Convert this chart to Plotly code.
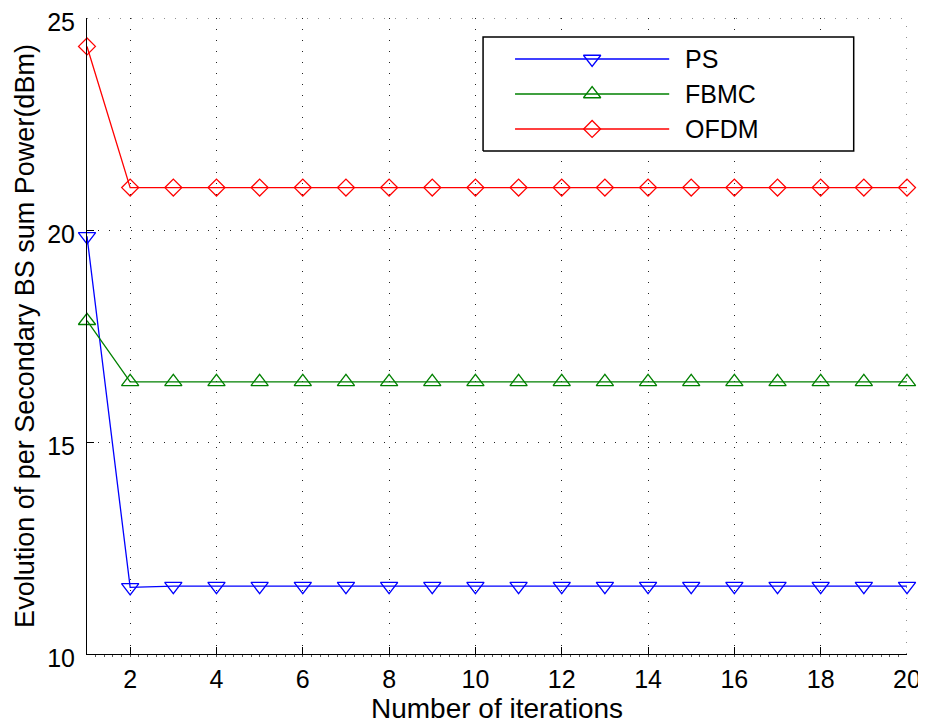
import plotly.graph_objects as go

iterations = list(range(1, 21))
ps = [19.85, 11.57] + [11.60] * 18
fbmc = [17.86, 16.42] + [16.42] * 18
ofdm = [24.33, 21.00] + [21.00] * 18

series_names = ["PS", "FBMC", "OFDM"]
series_values = [ps, fbmc, ofdm]
series_colors = ["#0000ff", "#008000", "#ff0000"]
series_symbols = ["triangle-down-open", "triangle-up-open", "diamond-open"]
series_sizes = [15, 15, 13]

x_ticks = list(range(2, 21, 2))
y_ticks = [10, 15, 20, 25]

FONT = "Liberation Sans, Arial, Helvetica, sans-serif"

fig = go.Figure()

# custom legend (MATLAB style box) drawn on an overlay axis in [0,1]
leg_x0, leg_x1 = 0.483, 0.935
leg_y0, leg_y1 = 0.791, 0.970
leg_rows = [0.9355, 0.8805, 0.8255]
line_a, line_b, mark_x, text_x = 0.522, 0.710, 0.616, 0.727

grid_dash = "1px,10px"

# dotted grid lines on the far edges (plotly drops grid lines at the range ends)
fig.add_shape(type="line", xref="paper", yref="y", x0=0, x1=1, y0=y_ticks[-1], y1=y_ticks[-1],
              line=dict(color="#222", width=1, dash=grid_dash), layer="below")
fig.add_shape(type="line", xref="x", yref="paper", x0=x_ticks[-1], x1=x_ticks[-1], y0=0, y1=1,
              line=dict(color="#222", width=1, dash=grid_dash), layer="below")

for name, vals, col, sym, sz in zip(series_names, series_values, series_colors, series_symbols, series_sizes):
    fig.add_trace(go.Scatter(
        x=iterations, y=vals, name=name, mode="lines+markers",
        line=dict(color=col, width=1.3),
        marker=dict(symbol=sym, size=sz, color=col, line=dict(color=col, width=1.3)),
        showlegend=False, cliponaxis=False,
    ))

fig.add_trace(go.Scatter(
    x=[leg_x0, leg_x1, leg_x1, leg_x0, leg_x0], y=[leg_y0, leg_y0, leg_y1, leg_y1, leg_y0],
    xaxis="x2", yaxis="y2", mode="lines", fill="toself", fillcolor="white",
    line=dict(color="black", width=1.5), showlegend=False, hoverinfo="skip"))
for name, col, sym, sz, yy in zip(series_names, series_colors, series_symbols, series_sizes, leg_rows):
    fig.add_trace(go.Scatter(
        x=[line_a, line_b], y=[yy, yy], xaxis="x2", yaxis="y2", mode="lines",
        line=dict(color=col, width=1.3), showlegend=False, hoverinfo="skip"))
    fig.add_trace(go.Scatter(
        x=[mark_x], y=[yy], xaxis="x2", yaxis="y2", mode="markers",
        marker=dict(symbol=sym, size=sz, color=col, line=dict(color=col, width=1.3)),
        showlegend=False, hoverinfo="skip"))
    fig.add_annotation(x=text_x, y=yy, xref="paper", yref="paper", text=name,
                       showarrow=False, xanchor="left", yanchor="middle",
                       font=dict(family=FONT, size=25, color="black"))

# page body has an 8px margin: size the figure so it fits the 926x728 window
fig.update_layout(
    width=918, height=720,
    margin=dict(l=79, r=19, t=10, b=74),
    paper_bgcolor="white", plot_bgcolor="white",
    font=dict(family=FONT, color="black"),
    xaxis=dict(
        range=[1, 20], tickvals=x_ticks, ticks="inside", ticklen=7, tickcolor="black",
        showline=True, linecolor="black", linewidth=1, mirror=False,
        showgrid=True, gridcolor="#222", gridwidth=1, griddash=grid_dash,
        zeroline=False, tickfont=dict(size=25), ticklabelstandoff=3, automargin=False,
        ticklabeloverflow="allow",
        title=dict(text="Number of iterations", font=dict(size=28), standoff=0),
        minor=dict(dtick=0.2, ticks="outside", ticklen=2, tickcolor="#555", showgrid=False),
    ),
    yaxis=dict(
        range=[10, 25], tickvals=y_ticks, ticks="inside", ticklen=7, tickcolor="black",
        showline=True, linecolor="black", linewidth=1, mirror=False,
        showgrid=True, gridcolor="#222", gridwidth=1, griddash=grid_dash,
        zeroline=False, tickfont=dict(size=25), ticklabelstandoff=6, automargin=False,
        ticklabeloverflow="allow", ticklabelshift=4,
        title=dict(text="Evolution of per Secondary BS sum Power(dBm)", font=dict(size=27), standoff=4),
    ),
    xaxis2=dict(range=[0, 1], overlaying="x", visible=False, fixedrange=True),
    yaxis2=dict(range=[0, 1], overlaying="y", visible=False, fixedrange=True),
)

fig.write_html("out.html")
